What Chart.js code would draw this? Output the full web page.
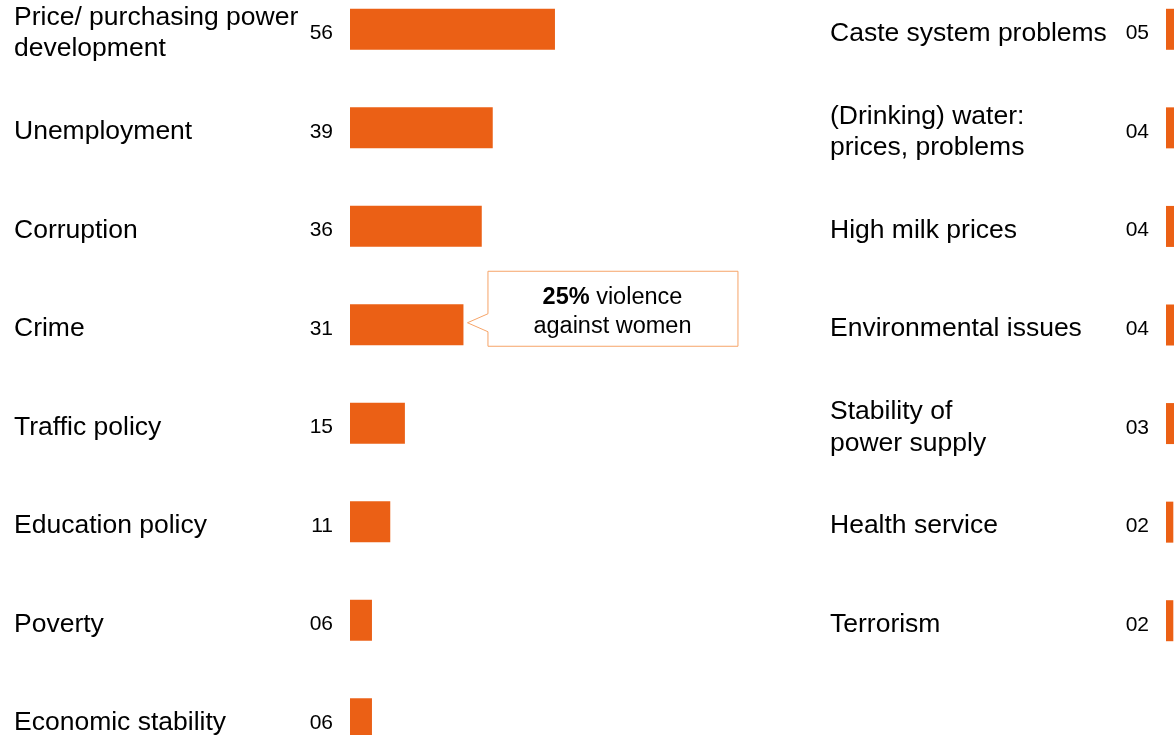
<!DOCTYPE html>
<html>
<head>
<meta charset="utf-8">
<script src="https://cdn.jsdelivr.net/npm/chart.js@4"></script>
<style>
  html, body { margin: 0; padding: 0; background: #fff; overflow: hidden; width: 1174px; height: 735px; position: relative; }
  canvas { position: absolute; }
  #leftChart { left: 0; top: -20px; }
  #rightChart { left: 830px; top: -20px; }
</style>
</head>
<body>
<canvas id="leftChart" width="800" height="788"></canvas>
<canvas id="rightChart" width="800" height="690"></canvas>
<script>
var leftLabels = [["Price/ purchasing power", "development"], "Unemployment", "Corruption", "Crime",
  "Traffic policy", "Education policy", "Poverty", "Economic stability"];
var leftValues = [56, 39, 36, 31, 15, 11, 6, 6];

var rightLabels = ["Caste system problems", ["(Drinking) water:", "prices, problems"], "High milk prices",
  "Environmental issues", ["Stability of", "power supply"], "Health service", "Terrorism"];
var rightValues = [5, 4, 4, 4, 3, 2, 2];

// callout on the Crime bar
var calloutIndex = 3;
var calloutBold = "25%";
var calloutLines = ["violence", "against women"];

var barColor = "#EB6015";
var fontFamily = "'Liberation Sans', Arial, Helvetica, sans-serif";

// numbers in front of each bar
var valueLabels = {
  id: "valueLabels",
  afterDatasetsDraw: function(chart) {
    var ctx = chart.ctx;
    var meta = chart.getDatasetMeta(0);
    ctx.save();
    ctx.font = "21px " + fontFamily;
    ctx.fillStyle = "#000";
    ctx.textAlign = "right";
    ctx.textBaseline = "alphabetic";
    meta.data.forEach(function(bar, i) {
      var v = chart.data.datasets[0].data[i];
      ctx.fillText(String(v).padStart(2, "0"), bar.base - 17, bar.y + 10);
    });
    ctx.restore();
  }
};

var callout = {
  id: "callout",
  afterDatasetsDraw: function(chart) {
    var ctx = chart.ctx;
    var bar = chart.getDatasetMeta(0).data[calloutIndex];
    var tipX = bar.x + 4, tipY = bar.y - 2;
    var left = tipX + 20, top = bar.y - 54, w = 250, h = 75;
    ctx.save();
    ctx.beginPath();
    ctx.moveTo(left + 0.5, top + 0.5);
    ctx.lineTo(left + w + 0.5, top + 0.5);
    ctx.lineTo(left + w + 0.5, top + h + 0.5);
    ctx.lineTo(left + 0.5, top + h + 0.5);
    ctx.lineTo(left + 0.5, tipY + 9);
    ctx.lineTo(tipX, tipY);
    ctx.lineTo(left + 0.5, tipY - 9);
    ctx.closePath();
    ctx.fillStyle = "#fff";
    ctx.fill();
    ctx.strokeStyle = "#F6A468";
    ctx.lineWidth = 1;
    ctx.stroke();

    var cx = left + w / 2;
    var fs = "23.5px " + fontFamily;
    ctx.fillStyle = "#000";
    ctx.textBaseline = "alphabetic";
    ctx.font = "bold " + fs;
    var bw = ctx.measureText(calloutBold + " ").width;
    ctx.font = fs;
    var nw = ctx.measureText(calloutLines[0]).width;
    var sx = cx - (bw + nw) / 2;
    ctx.textAlign = "left";
    ctx.font = "bold " + fs;
    ctx.fillText(calloutBold, sx, top + 33);
    ctx.font = fs;
    ctx.fillText(calloutLines[0], sx + bw, top + 33);
    ctx.textAlign = "center";
    ctx.fillText(calloutLines[1], cx, top + 62);
    ctx.restore();
  }
};

function makeOptions(padLeft, padRight) {
  return {
    indexAxis: "y",
    responsive: false,
    animation: false,
    layout: { padding: { left: padLeft, right: padRight, top: 0, bottom: 0 } },
    plugins: { legend: { display: false }, tooltip: { enabled: false } },
    scales: {
      x: { display: false, min: 0, max: 100 },
      y: {
        grid: { display: false },
        border: { display: false },
        afterFit: function(scale) {
          scale.width = 336;
          scale.paddingTop = 0;
          scale.paddingBottom = 0;
        },
        ticks: {
          crossAlign: "far",
          labelOffset: 4,
          color: "#000",
          font: { family: fontFamily, size: 26.5, lineHeight: 1.18 }
        }
      }
    }
  };
}

new Chart(document.getElementById("leftChart"), {
  type: "bar",
  data: {
    labels: leftLabels,
    datasets: [{ data: leftValues, backgroundColor: barColor, barPercentage: 0.416, categoryPercentage: 1 }]
  },
  options: makeOptions(14, 84),
  plugins: [valueLabels, callout]
});

new Chart(document.getElementById("rightChart"), {
  type: "bar",
  data: {
    labels: rightLabels,
    datasets: [{ data: rightValues, backgroundColor: barColor, barPercentage: 0.416, categoryPercentage: 1 }]
  },
  options: makeOptions(0, 98),
  plugins: [valueLabels]
});
</script>
</body>
</html>
